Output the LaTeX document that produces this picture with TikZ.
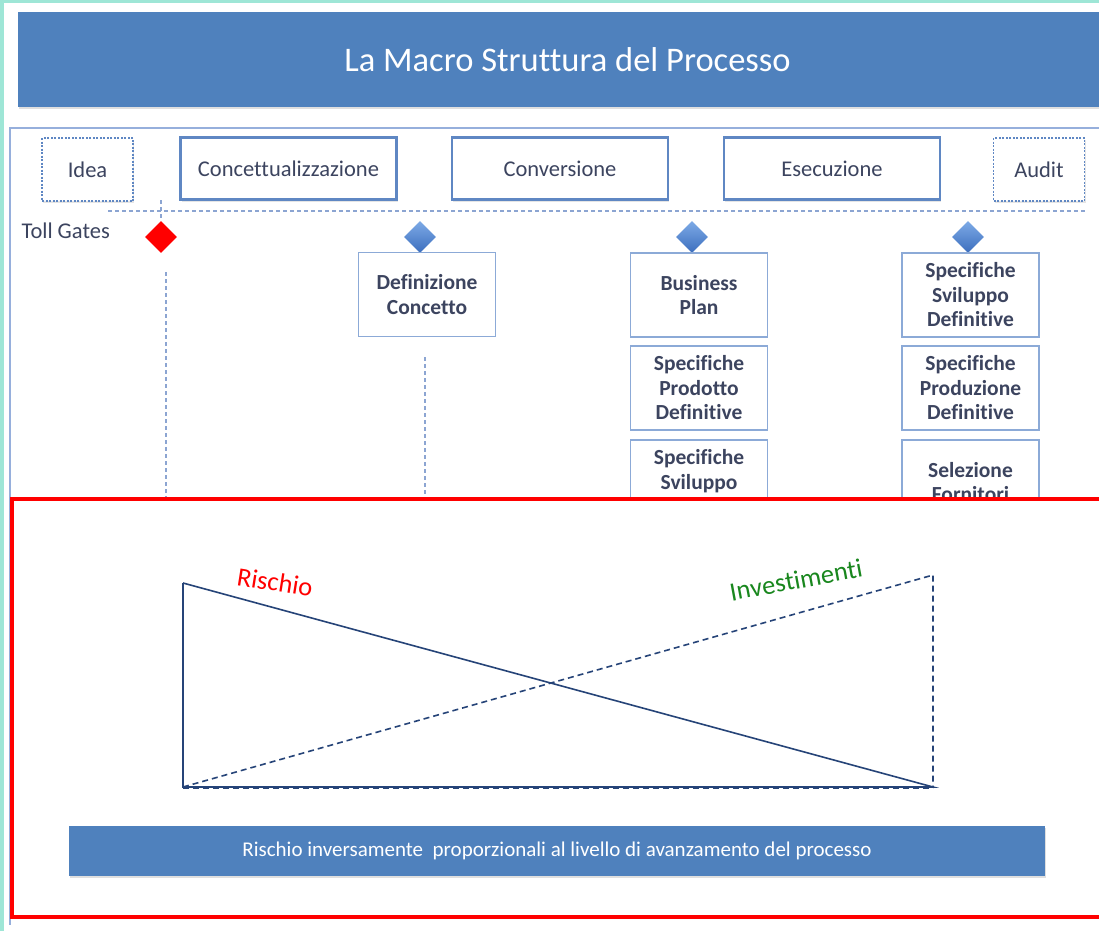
\documentclass[tikz,border=0pt]{standalone}
\usepackage{fontspec}
\setmainfont{Carlito}[Ligatures=NoCommon]
\usetikzlibrary{shapes.geometric, shadows}

\definecolor{titleblue}{RGB}{79,129,189}
\definecolor{boxline}{RGB}{95,135,195}
\definecolor{gateline}{RGB}{140,170,215}
\definecolor{boxtext}{RGB}{60,68,95}
\definecolor{mint}{RGB}{158,230,214}
\definecolor{navy}{RGB}{38,68,120}
\definecolor{investgreen}{RGB}{25,135,30}
\definecolor{dotblue}{RGB}{140,165,210}
\definecolor{framelight}{RGB}{150,175,220}

\begin{document}
\begin{tikzpicture}[x=1pt, y=-1pt]
        \tikzset{titlebar/.style = {fill=titleblue, minimum width=1099pt, minimum height=95pt, text=white, font=\fontsize{34.5}{40}\selectfont, drop shadow={opacity=0.25, shadow xshift=1pt, shadow yshift=-2pt}}}
        \tikzset{phase/.style = {draw=boxline, line width=2.5pt, fill=white, minimum width=216pt, minimum height=62pt, text=boxtext, font=\fontsize{22.5}{26}\selectfont, drop shadow={opacity=0.2, shadow xshift=1pt, shadow yshift=-2pt}}}
        \tikzset{sidephase/.style = {phase, line width=1.6pt, dash pattern=on 2pt off 1.5pt, minimum width=91pt, minimum height=63pt}}
        \tikzset{gatebox/.style = {draw=gateline, line width=1.6pt, fill=white, minimum width=137pt, minimum height=84pt, align=center, text=boxtext, font=\fontsize{21.5}{24.5}\selectfont\bfseries}}
        \tikzset{gate/.style = {shape=diamond, minimum size=32pt, inner sep=0pt, top color={rgb,255:red,125;green,170;blue,230}, bottom color={rgb,255:red,60;green,110;blue,190}}}
        \tikzset{redgate/.style = {shape=diamond, minimum size=32pt, inner sep=0pt, fill=red}}
        \tikzset{tollline/.style = {draw=dotblue, line width=1.5pt, dash pattern=on 4pt off 3pt}}
        \tikzset{riskline/.style = {draw=navy, line width=1.6pt}}
        \tikzset{investline/.style = {riskline, dash pattern=on 6pt off 4pt}}
        \tikzset{curvelabel/.style = {font=\fontsize{26.5}{30}\selectfont\addfontfeatures{Kerning=Off}}}
        \tikzset{notebar/.style = {fill=titleblue, minimum width=976pt, minimum height=50pt, text=white, font=\fontsize{21}{25}\selectfont, drop shadow={opacity=0.25, shadow xshift=1pt, shadow yshift=-2pt}}}
        \useasboundingbox (0,0) rectangle (1099,931);
        \clip (0,0) rectangle (1099,931);
        \fill[white] (0,0) rectangle (1099,931);
        \fill[mint] (0,0) rectangle (1099,3);
        \fill[mint] (0,0) rectangle (4,931);
        \draw[framelight, line width=1.5pt] (1110,128) -| (10,925);
        \node[titlebar] (title) at (567.5,59.5) {La Macro Struttura del Processo};
        \node[sidephase] (idea) at (87.5,169.5) {Idea};
        \node[phase] (concett) at (288.5,168.5) {Concettualizzazione};
        \node[phase] (conv) at (560,168.5) {Conversione};
        \node[phase] (esec) at (832,168.5) {Esecuzione};
        \node[sidephase] (audit) at (1039,169.5) {Audit};
        \coordinate (lineL) at (108,211);
        \coordinate (lineR) at (1085,211);
        \draw[tollline] (lineL) to (lineR);
        \node[anchor=west, text=boxtext, font=\fontsize{22.5}{26}\selectfont] (toll) at (18,231) {Toll Gates};
        \node[redgate] (g0) at (161,237) {};
        \node[gate] (g1) at (420,237) {};
        \node[gate] (g2) at (692,237) {};
        \node[gate] (g3) at (968,237) {};
        \coordinate (g0top) at (161,200);
        \draw[tollline] (g0top) to (g0.north);
        \node[gatebox] (defconc) at (427,294.5) {Definizione\\Concetto};
        \node[gatebox] (bplan) at (699,295) {Business\\Plan};
        \node[gatebox] (spprod) at (699,388) {Specifiche\\Prodotto\\Definitive};
        \node[gatebox] (spsvil) at (699,482) {Specifiche\\Sviluppo\\\phantom{Definitive}};
        \node[gatebox] (spsvd) at (970.5,295) {Specifiche\\Sviluppo\\Definitive};
        \node[gatebox] (spprd) at (970.5,388) {Specifiche\\Produzione\\Definitive};
        \node[gatebox] (selforn) at (970.5,482) {Selezione\\Fornitori};
        \coordinate (v0a) at (166,272);
        \coordinate (v0b) at (166,499);
        \coordinate (v1a) at (425,357);
        \coordinate (v1b) at (425,499);
        \draw[tollline] (v0a) to (v0b);
        \draw[tollline] (v1a) to (v1b);
        \draw[red, line width=4pt, fill=white] (12,499) rectangle (1115,917);
        \coordinate (rtop) at (183,583);
        \coordinate (rbase) at (183,787);
        \coordinate (rend) at (933,787);
        \coordinate (itop) at (933,575);
        \draw[riskline] (rtop) to (rbase) to (rend) to (rtop);
        \draw[investline] ([yshift=-1.5pt]rbase) to ([yshift=-1.5pt]rend);
        \draw[investline] (rbase) to (itop) to (rend);
        \node[curvelabel, text=red, rotate=-9] (rischio) at (275,582) {Rischio};
        \node[curvelabel, text=investgreen, rotate=10.5] (invest) at (796,580) {Investimenti};
        \node[notebar] (nota) at (557,851) {Rischio inversamente\ \ proporzionali al livello di avanzamento del processo};
      \end{tikzpicture}
\end{document}
